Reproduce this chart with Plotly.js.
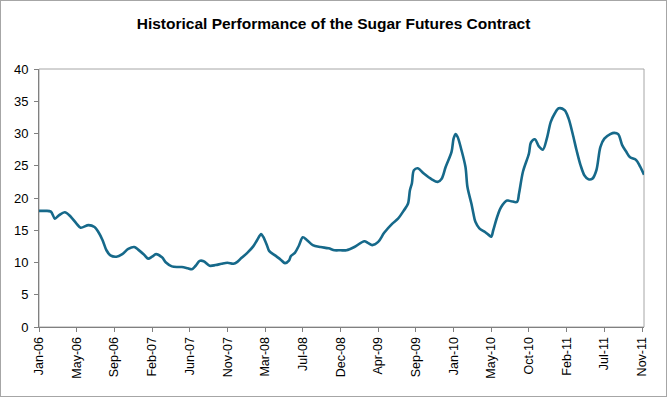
<!DOCTYPE html>
<html>
<head>
<meta charset="utf-8">
<script src="https://cdn.plot.ly/plotly-3.0.1.min.js"></script>
<style>
  html, body { margin: 0; padding: 0; background: #fff; }
  #chart { width: 665px; height: 395px; border: 1px solid #a6a6a6; }
</style>
</head>
<body>
<div id="chart"></div>
<script>
// Week index since start of series (Jan-06) and sugar futures price (US cents/lb)
const weeks = [0,3,6,8,10,13,16,19,21,25,28,30,32,34,36,39,42,45,48,50,53,55,57,59,62,64,67,70,72,75,77,79,81,83,86,89,92,95,98,100,102,105,108,110,112,113,115,116,119,122,124,126,127,129,131,133,135,138,142,146,149,152,155,159,164,166,168,171,174,178,181,184,186,187,188,189,191,194,198,201,203,205,208,209,210,211,213,215,216,218,219,220,222,225,227,228,229,231,233,236,238,241,242,244,247,248,250,252,254,256,258,260,262,265,267,269,271,273,275,277,279,281,283,285,288,290,292,294,296,298,301,303,305];
const prices = [18.0,18.0,17.9,16.8,17.3,17.8,17.1,16.0,15.4,15.8,15.5,14.7,13.5,11.9,11.1,10.9,11.3,12.1,12.4,12.0,11.2,10.6,10.9,11.3,10.8,10.0,9.4,9.3,9.3,9.1,8.95,9.5,10.25,10.2,9.5,9.6,9.8,9.95,9.8,10.1,10.7,11.5,12.5,13.5,14.4,14.0,12.6,11.8,11.1,10.4,9.9,10.3,11.0,11.5,12.6,13.9,13.5,12.7,12.4,12.2,11.9,11.9,11.9,12.4,13.3,13.0,12.7,13.2,14.6,16.0,16.8,18.1,19.1,21.2,22.3,24.3,24.6,23.8,22.9,22.5,23.0,24.8,27.2,29.2,29.9,29.5,27.4,24.8,21.7,19.1,17.6,16.3,15.3,14.7,14.2,14.0,15.0,17.1,18.6,19.6,19.5,19.4,20.7,24.1,26.9,28.6,29.1,28.0,27.5,29.2,31.8,33.1,33.9,33.6,32.3,30.0,27.4,25.1,23.5,22.9,23.0,24.3,27.9,29.2,29.9,30.1,29.9,28.2,27.2,26.3,25.9,24.9,23.6];
// Tick labels, one every 19 weeks
const tickWeeks = [0,19,38,57,76,95,114,133,152,171,190,209,228,247,266,285,304];
const tickLabels = ["Jan-06","May-06","Sep-06","Feb-07","Jun-07","Nov-07","Mar-08","Jul-08","Dec-08","Apr-09","Sep-09","Jan-10","May-10","Oct-10","Feb-11","Jul-11","Nov-11"];

const font = "Liberation Sans, Arial, sans-serif";

const trace = {
  x: weeks, y: prices, type: "scatter", mode: "lines",
  line: { color: "#16698a", width: 2.6, shape: "spline", smoothing: 0.9 },
  hoverinfo: "y"
};

const layout = {
  width: 665, height: 395,
  margin: { l: 38, r: 22, t: 68, b: 69 },
  paper_bgcolor: "#fff", plot_bgcolor: "#fff",
  showlegend: false,
  title: {
    text: "<b>Historical Performance of the Sugar Futures Contract</b>",
    font: { family: font, size: 15.5, color: "#000" },
    x: 0.5, xanchor: "center", xref: "container",
    y: 1 - 23/395, yanchor: "middle", yref: "container"
  },
  xaxis: {
    range: [0, 305], showgrid: false, zeroline: false,
    tickmode: "array", tickvals: tickWeeks, ticktext: tickLabels,
    tickangle: -90, ticks: "outside", ticklen: 4, tickcolor: "#808080",
    showline: true, linecolor: "#808080", linewidth: 1,
    tickfont: { family: font, size: 12.5, color: "#000" }
  },
  yaxis: {
    range: [0, 40], dtick: 5, showgrid: false, zeroline: false,
    ticks: "outside", ticklen: 4, tickcolor: "#808080",
    showline: true, linecolor: "#808080", linewidth: 1,
    ticklabelstandoff: 3,
    tickfont: { family: font, size: 13, color: "#000" }
  },
  shapes: [{
    type: "rect", xref: "paper", yref: "paper", x0: 0, x1: 1, y0: 0, y1: 1,
    line: { color: "#a6a6a6", width: 1 }, layer: "below"
  }]
};

Plotly.newPlot("chart", [trace], layout, { displayModeBar: false, staticPlot: true });
</script>
</body>
</html>
